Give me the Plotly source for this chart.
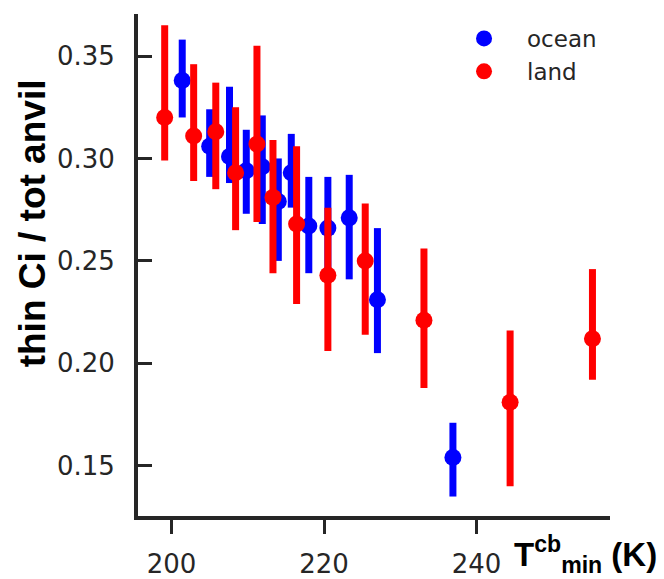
import plotly.graph_objects as go

# ---- data ----
ocean_T = [201.4, 205.0, 207.6, 209.8, 211.9, 214.0, 215.7, 218.0, 220.5, 223.3, 227.0, 236.9]
ocean_v = [0.338, 0.306, 0.301, 0.294, 0.296, 0.279, 0.293, 0.267, 0.266, 0.271, 0.231, 0.154]
ocean_lo = [0.320, 0.291, 0.288, 0.273, 0.268, 0.250, 0.276, 0.244, 0.242, 0.241, 0.205, 0.135]
ocean_hi = [0.358, 0.324, 0.335, 0.314, 0.321, 0.300, 0.312, 0.291, 0.291, 0.292, 0.266, 0.171]

land_T = [199.1, 202.9, 205.8, 208.4, 211.2, 213.3, 216.4, 220.5, 225.4, 233.1, 244.4, 255.2]
land_v = [0.320, 0.311, 0.313, 0.293, 0.307, 0.281, 0.268, 0.243, 0.250, 0.221, 0.181, 0.212]
land_lo = [0.299, 0.289, 0.285, 0.265, 0.269, 0.244, 0.229, 0.206, 0.214, 0.188, 0.140, 0.192]
land_hi = [0.365, 0.346, 0.337, 0.325, 0.355, 0.309, 0.306, 0.276, 0.278, 0.256, 0.216, 0.246]

x_ticks = [200, 220, 240]
y_ticks = [0.15, 0.20, 0.25, 0.30, 0.35]

DARK = "#262626"
fig = go.Figure()


def add_series(name, T, v, lo, hi, color):
    fig.add_trace(go.Scatter(
        x=T, y=v, mode="markers", name=name,
        marker=dict(color=color, size=17, line=dict(width=0)),
        error_y=dict(type="data", symmetric=False,
                     array=[h - c for h, c in zip(hi, v)],
                     arrayminus=[c - l for c, l in zip(v, lo)],
                     color=color, thickness=7, width=0),
    ))


add_series("ocean", ocean_T, ocean_v, ocean_lo, ocean_hi, "#0000ff")
add_series("land", land_T, land_v, land_lo, land_hi, "#ff0000")

fig.update_layout(
    width=664, height=579,
    margin=dict(l=138, r=54, t=14, b=63),
    plot_bgcolor="white", paper_bgcolor="white",
    font=dict(family="DejaVu Sans", color=DARK, size=26),
    showlegend=True,
    legend=dict(x=0.642, y=0.994, xanchor="left", yanchor="top",
                font=dict(size=23, color=DARK), bgcolor="rgba(0,0,0,0)",
                itemsizing="trace", itemwidth=76),
    xaxis=dict(range=[195.6, 257.5], tickvals=x_ticks, ticks="outside",
               ticklen=14, tickwidth=3, tickcolor=DARK,
               showline=True, linewidth=4, linecolor=DARK,
               showgrid=False, zeroline=False, ticklabelstandoff=8,
               automargin=False,
               tickfont=dict(size=26, color=DARK)),
    yaxis=dict(range=[0.1255, 0.3705], tickvals=y_ticks, tickformat=".2f",
               ticks="inside", ticklen=14, tickwidth=3, tickcolor=DARK,
               showline=True, linewidth=4, linecolor=DARK,
               showgrid=False, zeroline=False, ticklabelstandoff=14,
               automargin=False,
               tickfont=dict(size=26, color=DARK)),
    annotations=[
        dict(text="<b>thin Ci / tot anvil</b>", textangle=-90,
             xref="paper", yref="paper", x=-0.2246, y=0.583,
             xanchor="center", yanchor="middle", showarrow=False,
             font=dict(family="Liberation Sans", size=37, color="black")),
        dict(text="<b>T<sup>cb</sup><sub>min</sub> (K)</b>",
             xref="paper", yref="paper", x=0.792, y=-0.025,
             xanchor="left", yanchor="top", showarrow=False,
             font=dict(family="Liberation Sans", size=33, color="black")),
    ],
)

fig.write_html("out.html")
